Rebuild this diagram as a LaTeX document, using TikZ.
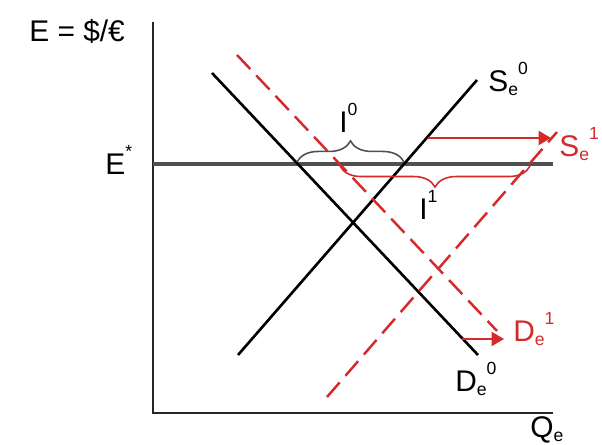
\documentclass[tikz,border=0pt]{standalone}
\usepackage{fontspec}
\setmainfont{Liberation Sans}
\usetikzlibrary{arrows.meta,decorations.pathreplacing}
\definecolor{curveRed}{HTML}{D42A2A}
\definecolor{levelGray}{HTML}{505050}
\newcommand{\smallidx}[1]{{\fontsize{10}{10}\selectfont #1}}
\newcommand{\curvelbl}[3]{#1\raisebox{-0.12em}{\smallidx{#2}}\raisebox{0.6em}{\smallidx{#3}}}

\begin{document}
\begin{tikzpicture}[
    x=0.02cm, y=-0.02cm,
    every node/.style={font=\fontsize{17}{20}\selectfont, inner sep=0pt, anchor=base west},
    axis/.style={line width=1.6pt, black!85},
    ratelevel/.style={line width=1.8pt, levelGray},
    curve/.style={line width=1.5pt},
    shifted/.style={line width=1.4pt, curveRed, dash pattern=on 11pt off 5pt},
    shiftarr/.style={-{Triangle[length=7pt,width=8pt]}, line width=1pt, curveRed},
    gap/.style={decorate, decoration={brace, amplitude=12pt}, line width=0.9pt}
  ]
    \useasboundingbox (0,0) rectangle (602,445);
    % axes and labels
    \coordinate (ytop) at (153,22);
    \coordinate (orig) at (153,413);
    \coordinate (xend) at (553,413);
    \draw[axis] (ytop) -- (orig) -- (xend);
    \node (ylbl) at (29,42) {E = \$/€};
    \node (qlbl) at (530,438) {Q\raisebox{-0.12em}{\smallidx{e}}};
    % equilibrium rate
    \node (elbl) at (105,175) {E\raisebox{0.6em}{\smallidx{*}}};
    \coordinate (eleft) at (153,164);
    \coordinate (eright) at (553,164);
    \draw[ratelevel] (eleft) -- (eright);
    % original curves
    \coordinate (d0a) at (212,73);
    \coordinate (d0b) at (478,355);
    \coordinate (s0a) at (238,355);
    \coordinate (s0b) at (477,80);
    \draw[curve] (d0a) -- (d0b);
    \draw[curve] (s0a) -- (s0b);
    \node (s0lbl) at (488,92) {\curvelbl{S}{e}{0}};
    \node (d0lbl) at (455,392) {\curvelbl{D}{e}{0}};
    % shifted curves
    \coordinate (d1a) at (237,55);
    \coordinate (d1b) at (497,331);
    \coordinate (s1a) at (327,397);
    \coordinate (s1b) at (557,132);
    \draw[shifted] (d1a) -- (d1b);
    \draw[shifted] (s1a) -- (s1b);
    \node[text=curveRed] (s1lbl) at (559,157) {\curvelbl{S}{e}{1}};
    \node[text=curveRed] (d1lbl) at (513,342) {\curvelbl{D}{e}{1}};
    % shift arrows
    \coordinate (sfrom) at (428,138);
    \coordinate (sto) at (551,138);
    \coordinate (dfrom) at (462,339);
    \coordinate (dto) at (504,339);
    \draw[shiftarr] (sfrom) -- (sto);
    \draw[shiftarr] (dfrom) -- (dto);
    % gaps
    \coordinate (g0a) at (297,162);
    \coordinate (g0b) at (404,162);
    \coordinate (g1a) at (530,166);
    \coordinate (g1b) at (340,166);
    \draw[gap, levelGray] (g0a) -- (g0b);
    \draw[gap, curveRed] (g1a) -- (g1b);
    \node (i0lbl) at (339,133) {I\raisebox{0.6em}{\smallidx{0}}};
    \node (i1lbl) at (419,220) {I\raisebox{0.6em}{\smallidx{1}}};
\end{tikzpicture}
\end{document}
